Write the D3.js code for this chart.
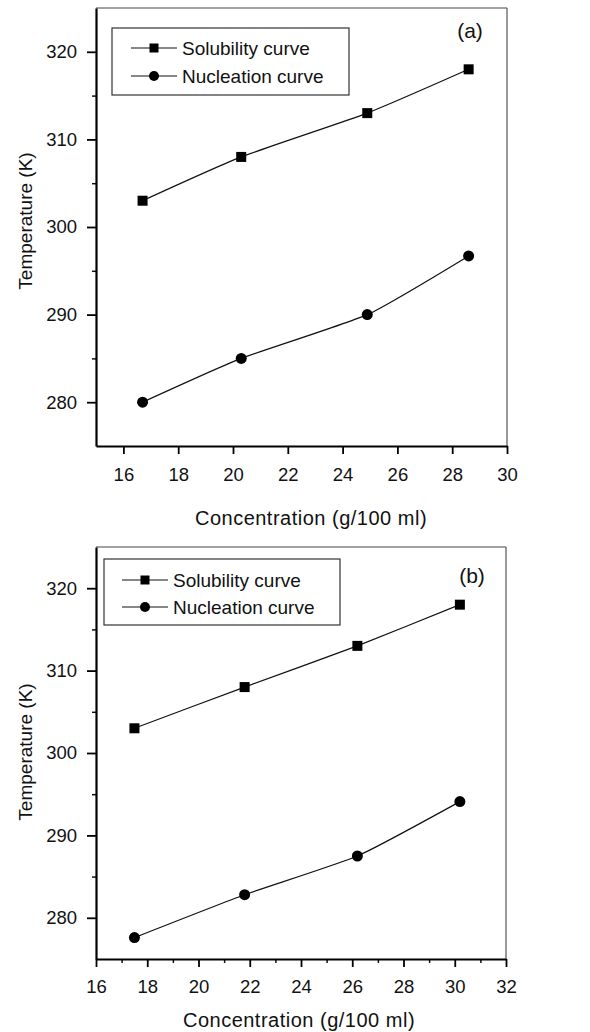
<!DOCTYPE html>
<html>
<head>
<meta charset="utf-8">
<script src="https://cdn.jsdelivr.net/npm/d3@7"></script>
<style>
  html, body { margin: 0; padding: 0; background: #fff; }
  svg { display: block; }
  text { font-family: "Liberation Sans", Arial, sans-serif; fill: #111; }
</style>
</head>
<body>
<svg id="chart" width="590" height="1032"></svg>
<script>
// ---- Data ----
const seriesNames = ["Solubility curve", "Nucleation curve"];
const panelLabels = ["(a)", "(b)"];

const concA = [16.7, 20.3, 24.9, 28.6];
const solubilityA = [303, 308, 313, 318];
const nucleationA = [280, 285, 290, 296.7];

const concB = [17.5, 21.8, 26.2, 30.2];
const solubilityB = [303, 308, 313, 318];
const nucleationB = [277.6, 282.8, 287.5, 294.1];

const xTicksA = [16, 18, 20, 22, 24, 26, 28, 30];
const xTicksB = [16, 18, 20, 22, 24, 26, 28, 30, 32];
const yTicks = [280, 290, 300, 310, 320];

const xTitle = "Concentration (g/100 ml)";
const yTitle = "Temperature (K)";

const svg = d3.select("#chart");
const FONT = "'Liberation Sans', Arial, sans-serif";

function drawPanel(cfg) {
  const g = svg.append("g");
  const x = d3.scaleLinear().domain(cfg.xDomain).range([cfg.left, cfg.right]);
  const y = d3.scaleLinear().domain([275, 325]).range([cfg.bottom, cfg.top]);

  // frame top/right (thin)
  g.append("line").attr("x1", cfg.left).attr("x2", cfg.right).attr("y1", cfg.top).attr("y2", cfg.top)
    .attr("stroke", "#444").attr("stroke-width", 1.2);
  g.append("line").attr("x1", cfg.right).attr("x2", cfg.right).attr("y1", cfg.top).attr("y2", cfg.bottom)
    .attr("stroke", "#555").attr("stroke-width", 1.2);

  // minor ticks
  const xMinor = d3.range(cfg.xDomain[0] + 1, cfg.xDomain[1], 2).filter(v => !cfg.xTicks.includes(v));
  const yMinor = [285, 295, 305, 315];

  g.append("g").attr("transform", `translate(0,${cfg.bottom})`)
    .call(d3.axisBottom(x).tickValues(xMinor).tickSize(4).tickFormat(""))
    .call(s => s.select(".domain").remove())
    .selectAll("line").attr("stroke", "#111").attr("stroke-width", 1.5);
  g.append("g").attr("transform", `translate(${cfg.left},0)`)
    .call(d3.axisLeft(y).tickValues(yMinor).tickSize(4).tickFormat(""))
    .call(s => s.select(".domain").remove())
    .selectAll("line").attr("stroke", "#111").attr("stroke-width", 1.5);

  // major axes
  const xAxis = d3.axisBottom(x).tickValues(cfg.xTicks).tickSize(8).tickSizeOuter(0).tickPadding(cfg.xPad);
  const yAxis = d3.axisLeft(y).tickValues(yTicks).tickSize(9).tickSizeOuter(0).tickPadding(10);

  const gx = g.append("g").attr("transform", `translate(0,${cfg.bottom})`).call(xAxis);
  gx.select(".domain").attr("stroke", "#000").attr("stroke-width", 2.2);
  gx.selectAll(".tick line").attr("stroke", "#000").attr("stroke-width", 1.8);
  gx.selectAll(".tick text").attr("font-size", 18.5).attr("fill", "#111").attr("font-family", FONT);

  const gy = g.append("g").attr("transform", `translate(${cfg.left},0)`).call(yAxis);
  gy.select(".domain").attr("stroke", "#000").attr("stroke-width", 2.2);
  gy.selectAll(".tick line").attr("stroke", "#000").attr("stroke-width", 1.8);
  gy.selectAll(".tick text").attr("font-size", 18.5).attr("fill", "#111").attr("font-family", FONT);

  // titles
  g.append("text").attr("x", cfg.xTitleX).attr("y", cfg.xTitleY).attr("dy", "0.36em")
    .attr("text-anchor", "middle").attr("font-size", 20).attr("letter-spacing", 0.5)
    .text(xTitle);
  g.append("text").attr("transform", `translate(32,${cfg.yTitleY}) rotate(-90)`)
    .attr("text-anchor", "middle").attr("font-size", 19)
    .text(yTitle);

  // lines
  const line = d3.line().x(d => x(d[0])).y(d => y(d[1])).curve(d3.curveCardinal.tension(0.5));
  const sol = cfg.conc.map((c, i) => [c, cfg.sol[i]]);
  const nuc = cfg.conc.map((c, i) => [c, cfg.nuc[i]]);
  [sol, nuc].forEach(data => {
    g.append("path").datum(data).attr("d", line).attr("fill", "none")
      .attr("stroke", "#111").attr("stroke-width", 1.2);
  });
  const sq = 10;
  g.selectAll(".sq").data(sol).enter().append("rect")
    .attr("x", d => x(d[0]) - sq / 2).attr("y", d => y(d[1]) - sq / 2)
    .attr("width", sq).attr("height", sq).attr("fill", "#000");
  g.selectAll(".ci").data(nuc).enter().append("circle")
    .attr("cx", d => x(d[0])).attr("cy", d => y(d[1])).attr("r", 5.5).attr("fill", "#000");

  // legend
  const L = cfg.legend;
  g.append("rect").attr("x", L.x).attr("y", L.y).attr("width", L.w).attr("height", L.h)
    .attr("fill", "#fff").attr("stroke", "#333").attr("stroke-width", 1.2);
  seriesNames.forEach((name, i) => {
    const cy = L.rows[i];
    const lx = L.lineX;
    g.append("line").attr("x1", lx).attr("x2", lx + 46).attr("y1", cy).attr("y2", cy)
      .attr("stroke", "#111").attr("stroke-width", 1.2);
    if (i === 0) {
      g.append("rect").attr("x", lx + 23 - 4.5).attr("y", cy - 4.5).attr("width", 9).attr("height", 9).attr("fill", "#000");
    } else {
      g.append("circle").attr("cx", lx + 23).attr("cy", cy).attr("r", 5).attr("fill", "#000");
    }
    g.append("text").attr("x", lx + 51).attr("y", cy).attr("dy", "0.36em")
      .attr("font-size", 19).text(name);
  });

  g.append("text").attr("x", cfg.labelX).attr("y", cfg.labelY).attr("dy", "0.36em")
    .attr("text-anchor", "middle").attr("font-size", 21).text(cfg.label);
}

drawPanel({
  xDomain: [15, 30], xTicks: xTicksA,
  left: 96, right: 507, top: 8, bottom: 446, xPad: 14,
  conc: concA, sol: solubilityA, nuc: nucleationA,
  xTitleX: 311, xTitleY: 518, yTitleY: 221,
  legend: { x: 112, y: 28, w: 237, h: 67, rows: [48, 76], lineX: 131 },
  label: panelLabels[0], labelX: 470, labelY: 30
});

drawPanel({
  xDomain: [16, 32], xTicks: xTicksB,
  left: 96, right: 506, top: 547, bottom: 959, xPad: 13,
  conc: concB, sol: solubilityB, nuc: nucleationB,
  xTitleX: 299, xTitleY: 1020, yTitleY: 752,
  legend: { x: 104, y: 559, w: 236, h: 66, rows: [580, 607], lineX: 122 },
  label: panelLabels[1], labelX: 472, labelY: 575
});
</script>
</body>
</html>
